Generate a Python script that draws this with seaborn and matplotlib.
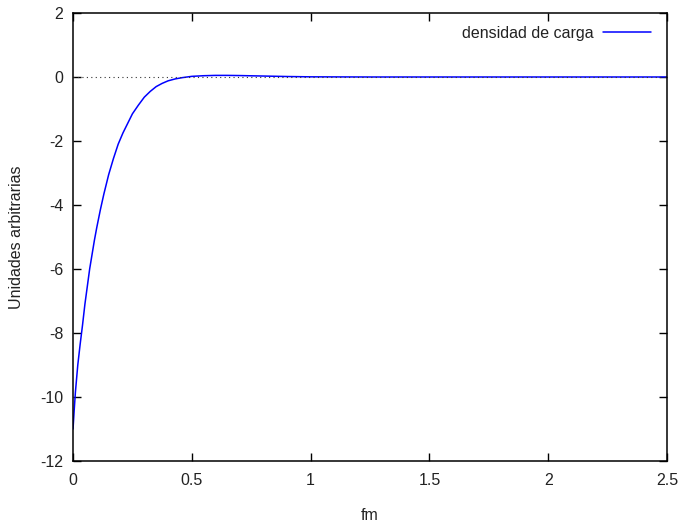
#!/usr/bin/env python3
"""
Charge density curve (gnuplot-style look) redrawn with seaborn.
"""

import pandas as pd
import seaborn as sns
import matplotlib.pyplot as plt


# values
fm = [0.0, 0.005, 0.01, 0.02, 0.03, 0.04, 0.05, 0.06, 0.07, 0.08, 0.09,
      0.1, 0.115, 0.13, 0.15, 0.17, 0.19, 0.21, 0.23, 0.25, 0.275, 0.3,
      0.325, 0.35, 0.375, 0.4, 0.43, 0.46, 0.5, 0.55, 0.6, 0.65, 0.7,
      0.8, 0.9, 1.0, 1.25, 1.5, 2.0, 2.5]
densidad = [-11.0, -10.4, -9.85, -9.0, -8.35, -7.75, -7.1, -6.55, -6.0,
            -5.55, -5.1, -4.7, -4.15, -3.65, -3.05, -2.55, -2.1, -1.75,
            -1.45, -1.15, -0.88, -0.63, -0.45, -0.3, -0.2, -0.12, -0.06,
            -0.02, 0.02, 0.04, 0.05, 0.05, 0.045, 0.03, 0.015, 0.005,
            0.0, 0.0, 0.0, 0.0]

xlim = (0, 2.5)
ylim = (-12, 2)


def setup_style():
    sns.set_style("ticks")
    plt.rcParams["font.family"] = ["Liberation Sans", "DejaVu Sans"]
    plt.rcParams["axes.unicode_minus"] = False
    plt.rcParams["xtick.direction"] = "in"
    plt.rcParams["ytick.direction"] = "in"


def plot_density():
    df = pd.DataFrame({"fm": fm, "densidad": densidad})

    fig = plt.figure(figsize=(6.8, 5.22), dpi=100)
    ax = fig.add_axes([0.1074, 0.1169, 0.8735, 0.8582])

    sns.lineplot(data=df, x="fm", y="densidad", color="#0000ff",
                 linewidth=1.1, label="densidad de carga", ax=ax,
                 sort=False)

    # dotted zero line
    ax.plot(xlim, [0, 0], color="#333333", linestyle=(0, (1, 3)),
            linewidth=0.8)

    ax.set_xlim(*xlim)
    ax.set_ylim(*ylim)
    ax.set_xticks([0, 0.5, 1, 1.5, 2, 2.5])
    ax.set_xticklabels(["0", "0.5", "1", "1.5", "2", "2.5"])
    ax.set_yticks(range(-12, 3, 2))
    ax.tick_params(axis="x", pad=9)
    ax.tick_params(axis="y", pad=7)
    ax.tick_params(axis="both", which="both", top=True, right=True,
                   length=6, width=1, labelsize=11.5, colors="black",
                   labelcolor="#222222")
    for side in ax.spines.values():
        side.set_visible(True)
        side.set_linewidth(1.1)
        side.set_color("black")

    ax.set_xlabel("fm", fontsize=11.5, labelpad=14, color="#222222")
    ax.set_ylabel("Unidades arbitrarias", fontsize=11.5, labelpad=12,
                  color="#222222")

    leg = ax.legend(loc="upper right", frameon=False, markerfirst=False,
                    fontsize=11.5, handlelength=3.0, handletextpad=0.6,
                    borderaxespad=0.4, bbox_to_anchor=(0.995, 1.0))
    for text in leg.get_texts():
        text.set_color("#222222")

    fig.savefig("out.png", dpi=100)
    plt.close(fig)


def main():
    setup_style()
    plot_density()


if __name__ == "__main__":
    main()
